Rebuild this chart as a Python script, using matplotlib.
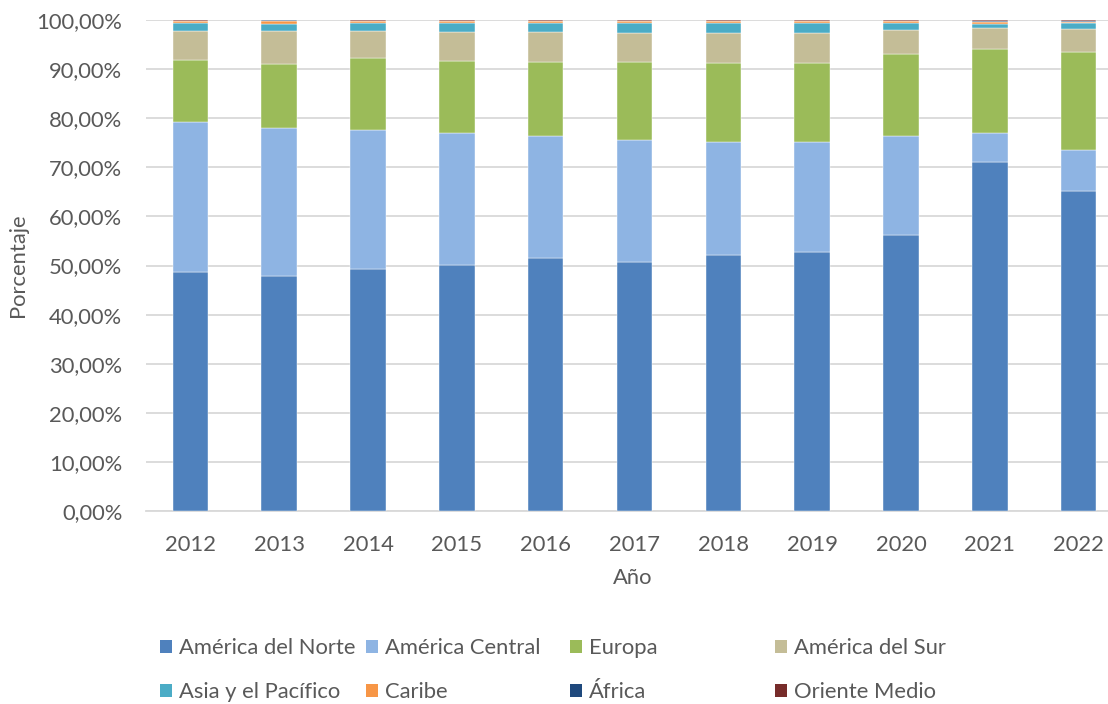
import matplotlib
matplotlib.use("Agg")
import matplotlib.pyplot as plt
import numpy as np
from matplotlib.ticker import FuncFormatter
from matplotlib.patches import Patch

plt.rcParams['font.family'] = ['Lato', 'DejaVu Sans']

years = ["2012", "2013", "2014", "2015", "2016", "2017", "2018", "2019", "2020", "2021", "2022"]
series_names = ["América del Norte", "América Central", "Europa", "América del Sur",
                "Asia y el Pacífico", "Caribe", "África", "Oriente Medio"]

america_norte   = [48.6, 47.9, 49.3, 50.2, 51.6, 50.7, 52.2, 52.85, 56.3, 71.1, 65.2]
america_central = [30.65, 30.2, 28.25, 26.7, 24.8, 24.95, 23.0, 22.35, 20.0, 5.9, 8.3]
europa          = [12.7, 12.85, 14.65, 14.8, 15.0, 15.7, 15.95, 15.95, 16.7, 17.0, 19.95]
america_sur     = [5.9, 6.9, 5.5, 5.9, 6.2, 6.05, 6.25, 6.25, 5.0, 4.45, 4.75]
asia_pacifico   = [1.5, 1.35, 1.6, 1.8, 1.7, 1.9, 1.9, 1.9, 1.45, 0.8, 1.1]
caribe          = [0.4, 0.65, 0.4, 0.35, 0.4, 0.4, 0.4, 0.4, 0.3, 0.3, 0.35]
africa          = [0.1, 0.05, 0.1, 0.1, 0.1, 0.1, 0.1, 0.1, 0.1, 0.3, 0.2]
oriente_medio   = [0.2, 0.1, 0.2, 0.15, 0.2, 0.2, 0.2, 0.2, 0.15, 0.15, 0.15]

colors = ["#4F81BD", "#8EB4E3", "#9BBB59", "#C4BD97", "#4BACC6", "#F79646", "#1F497D", "#772C2A"]

data = np.array([america_norte, america_central, europa, america_sur,
                 asia_pacifico, caribe, africa, oriente_medio])

FS = 15.8

fig = plt.figure(figsize=(11.08, 7.04), dpi=100)
ax = fig.add_axes([146/1108, 193/704, 977/1108, 491/704])

x = np.arange(len(years))
bottom = np.zeros(len(years))
handles = []
for vals, name, col in zip(data, series_names, colors):
    ax.bar(x, vals, bottom=bottom, width=0.4, color=col, label=name,
           edgecolor='white', linewidth=0.3, zorder=3)
    bottom += vals
    handles.append(Patch(facecolor=col, edgecolor='none', label=name))

ax.set_xlim(-0.5, len(years) - 0.5)
ax.set_ylim(0, 100)
ax.set_yticks(np.arange(0, 101, 10))
ax.yaxis.set_major_formatter(FuncFormatter(lambda v, p: f"{v:.2f}".replace('.', ',') + "%"))
ax.set_xticks(x)
ax.set_xticklabels(years)
ax.grid(axis='y', color='#D9D9D9', linewidth=1.3, zorder=0)
ax.set_axisbelow(True)
for s in ['top', 'right', 'left']:
    ax.spines[s].set_visible(False)
ax.spines['bottom'].set_color('#D9D9D9')
ax.spines['bottom'].set_linewidth(1.3)
ax.tick_params(axis='both', length=0, labelsize=FS, colors='#595959')
ax.tick_params(axis='y', pad=17)
ax.tick_params(axis='x', pad=17)

fig.text(633/1108, 1 - 578/704, "Año", ha='center', va='center', fontsize=FS, color='#595959')
fig.text(18/1108, 1 - 265/704, "Porcentaje", ha='center', va='center', rotation=90,
         fontsize=FS, color='#595959')

col_x = [160, 366, 570, 775]
row_y = [648, 692]
for i, h in enumerate(handles):
    r, c = divmod(i, 4)
    fig.legend(handles=[h], loc='center left',
               bbox_to_anchor=(col_x[c] / 1108, 1 - row_y[r] / 704),
               frameon=False, fontsize=FS, handlelength=0.55, handleheight=0.55,
               handletextpad=0.3, borderpad=0, borderaxespad=0, labelcolor='#595959')

fig.savefig("out.png", dpi=100)
